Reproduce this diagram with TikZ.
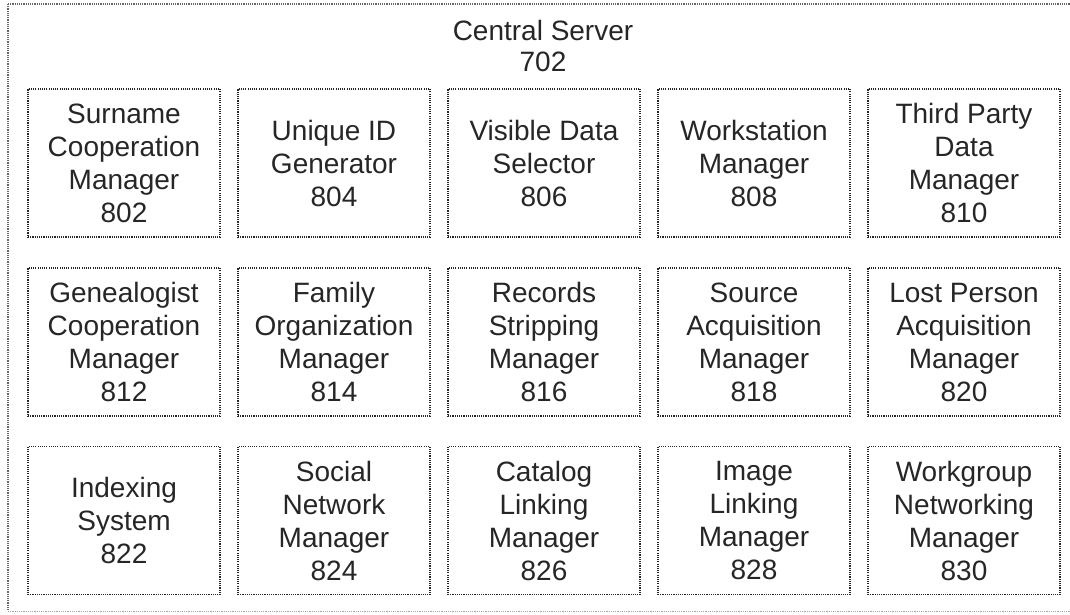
\documentclass[tikz,border=0pt]{standalone}
\usepackage{fontspec}
\setmainfont{Liberation Sans}
\begin{document}
\begin{tikzpicture}[x=1pt,y=-1pt,
  frame/.style={draw=black!85,dash pattern=on 1.1pt off 1.1pt,line width=1.4pt},
  mod/.style={frame,minimum width=192pt,minimum height=148pt,inner sep=0pt,
    align=center,font=\fontsize{28}{33}\selectfont,text=black!85},
  title/.style={align=center,font=\fontsize{28}{31}\selectfont,text=black!85}]
\useasboundingbox (0,0) rectangle (1070,614);
\draw[frame,draw=black!60] (8,4) -- (1075,4) (8,4) -- (8,611);
\draw[frame,draw=black!35,line width=1pt] (8,611) -- (1075,611);
\node[title] (cs) at (543,46) {Central Server\\702};
% row 1
\node[mod] (m802) at (124,163) {Surname\\Cooperation\\Manager\\802};
\node[mod] (m804) at (334,163) {Unique ID\\Generator\\804};
\node[mod] (m806) at (544,163) {Visible Data\\Selector\\806};
\node[mod] (m808) at (754,163) {Workstation\\Manager\\808};
\node[mod] (m810) at (964,163) {Third Party\\Data\\Manager\\810};
% row 2
\node[mod] (m812) at (124,342) {Genealogist\\Cooperation\\Manager\\812};
\node[mod] (m814) at (334,342) {Family\\Organization\\Manager\\814};
\node[mod] (m816) at (544,342) {Records\\Stripping\\Manager\\816};
\node[mod] (m818) at (754,342) {Source\\Acquisition\\Manager\\818};
\node[mod] (m820) at (964,342) {Lost Person\\Acquisition\\Manager\\820};
% row 3
\node[mod] (m822) at (124,520.5) {Indexing\\System\\822};
\node[mod] (m824) at (334,520.5) {Social\\Network\\Manager\\824};
\node[mod] (m826) at (544,520.5) {Catalog\\Linking\\Manager\\826};
\node[mod] (m828) at (754,520.5) {Image\\Linking\\Manager\\828};
\node[mod] (m830) at (964,520.5) {Workgroup\\Networking\\Manager\\830};
\end{tikzpicture}
\end{document}
